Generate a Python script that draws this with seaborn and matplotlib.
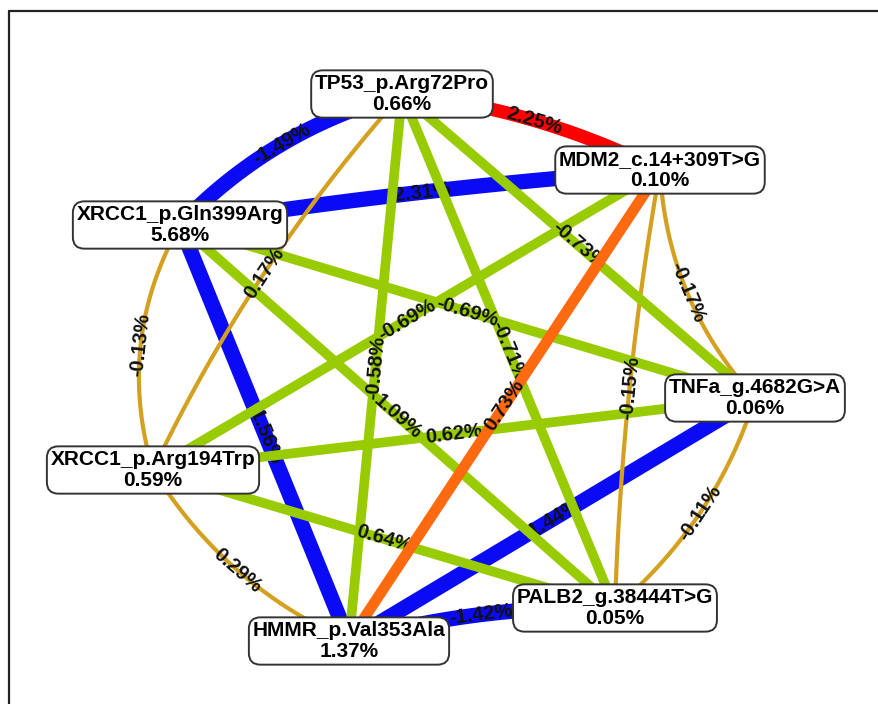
import numpy as np
import pandas as pd
import matplotlib
matplotlib.use("Agg")
import matplotlib.pyplot as plt
from matplotlib.lines import Line2D
import seaborn as sns

# ---- data -----------------------------------------------------------------
genes = ["TP53_p.Arg72Pro", "MDM2_c.14+309T>G", "TNFa_g.4682G>A",
         "PALB2_g.38444T>G", "HMMR_p.Val353Ala", "XRCC1_p.Arg194Trp",
         "XRCC1_p.Gln399Arg"]
main_effect = [0.66, 0.10, 0.06, 0.05, 1.37, 0.59, 5.68]

# pairwise interaction (% of entropy), listed in drawing order
edge_from = ["TP53_p.Arg72Pro", "XRCC1_p.Gln399Arg", "TNFa_g.4682G>A", "HMMR_p.Val353Ala",
             "XRCC1_p.Gln399Arg", "TP53_p.Arg72Pro", "MDM2_c.14+309T>G", "MDM2_c.14+309T>G",
             "TNFa_g.4682G>A", "XRCC1_p.Arg194Trp",
             "MDM2_c.14+309T>G", "XRCC1_p.Gln399Arg", "TP53_p.Arg72Pro", "TP53_p.Arg72Pro",
             "TP53_p.Arg72Pro", "XRCC1_p.Gln399Arg", "XRCC1_p.Arg194Trp", "XRCC1_p.Arg194Trp",
             "XRCC1_p.Gln399Arg", "MDM2_c.14+309T>G", "TP53_p.Arg72Pro"]
edge_to = ["XRCC1_p.Gln399Arg", "HMMR_p.Val353Ala", "HMMR_p.Val353Ala", "PALB2_g.38444T>G",
           "XRCC1_p.Arg194Trp", "XRCC1_p.Arg194Trp", "PALB2_g.38444T>G", "TNFa_g.4682G>A",
           "PALB2_g.38444T>G", "HMMR_p.Val353Ala",
           "XRCC1_p.Arg194Trp", "TNFa_g.4682G>A", "HMMR_p.Val353Ala", "PALB2_g.38444T>G",
           "TNFa_g.4682G>A", "PALB2_g.38444T>G", "TNFa_g.4682G>A", "PALB2_g.38444T>G",
           "MDM2_c.14+309T>G", "HMMR_p.Val353Ala", "MDM2_c.14+309T>G"]
edge_value = [-1.49, -1.56, -1.44, -1.42,
              -0.13, 0.17, -0.15, -0.17, -0.11, 0.29,
              -0.69, -0.69, -0.58, -0.71, -0.73, 1.09, 0.62, 0.64,
              -2.31, 0.73, 2.25]

# ---- styling --------------------------------------------------------------
edge_kind = ["blue"] * 4 + ["gold"] * 6 + ["green"] * 8 + ["blue", "orange", "red"]
# outward bow of each edge at its midpoint (px, negative bows inward)
edge_bend = [18, 0, 0, -10,
             26, 16, -8, -22, 18, 20,
             0, 0, 0, 0, 0, 0, 0, 0,
             5, 0, 12]
kind_color = {"blue": "#0a0af5", "gold": "#d4a020", "green": "#99cc00",
              "orange": "#ff6a10", "red": "#ff0000"}
kind_width = {"blue": 11.0, "gold": 3.0, "green": 7.0, "orange": 7.8, "red": 9.6}
kind_order = {"blue": 1, "gold": 2, "green": 3, "orange": 4, "red": 5}
# labels of thin/medium edges sit above all the green edges
label_layer = {"gold": 3.9, "green": 3.9}
# labels that get covered by later edges keep their own edge's layer
low_labels = {("XRCC1_p.Arg194Trp", "TNFa_g.4682G>A"),
              ("TP53_p.Arg72Pro", "TNFa_g.4682G>A")}

# node placement (circular-style layout, pixel space)
layout = {
    "TP53_p.Arg72Pro": (402, 94),
    "MDM2_c.14+309T>G": (660, 170),
    "TNFa_g.4682G>A": (755, 398),
    "PALB2_g.38444T>G": (615, 608),
    "HMMR_p.Val353Ala": (349, 641),
    "XRCC1_p.Arg194Trp": (153, 470),
    "XRCC1_p.Gln399Arg": (180, 225),
}
hub = np.array([445.0, 390.0])

W, H = 879, 704
sns.set_theme(style="white")
plt.rcParams["font.family"] = ["Liberation Sans", "DejaVu Sans"]

fig = plt.figure(figsize=(W / 100, H / 100), dpi=100)
ax = fig.add_axes([0, 0, 1, 1])
ax.set_xlim(0, W)
ax.set_ylim(H, 0)
ax.axis("off")

t = np.linspace(0, 1, 80)
for i, (a, b, v) in enumerate(zip(edge_from, edge_to, edge_value)):
    p0 = np.array(layout[a], float)
    p2 = np.array(layout[b], float)
    mid = (p0 + p2) / 2
    d = p2 - p0
    n = np.array([-d[1], d[0]]) / np.hypot(*d)
    if np.dot(n, mid - hub) < 0:
        n = -n
    bend = edge_bend[i]
    ctrl = mid + 2 * bend * n
    pts = ((1 - t)[:, None] ** 2 * p0 + 2 * ((1 - t) * t)[:, None] * ctrl
           + (t ** 2)[:, None] * p2)
    seg = pd.DataFrame({"x": pts[:, 0], "y": pts[:, 1]})
    kind = edge_kind[i]
    z = kind_order[kind] + i * 0.01
    sns.lineplot(data=seg, x="x", y="y", ax=ax, sort=False, estimator=None,
                 color=kind_color[kind], lw=kind_width[kind],
                 solid_capstyle="butt", zorder=z)
    lab = mid + bend * n
    ang = np.degrees(np.arctan2(-d[1], d[0]))
    if ang > 90:
        ang -= 180
    elif ang <= -90:
        ang += 180
    if (a, b) in low_labels:
        lz = z + 0.005
    else:
        lz = label_layer.get(kind, z + 0.005)
    ax.text(lab[0], lab[1], f"{v:.2f}%", rotation=ang, rotation_mode="anchor",
            ha="center", va="center", fontsize=14.5, fontweight="bold",
            color="#111111", zorder=lz)

ax.set_xlabel("")
ax.set_ylabel("")

for g, m in zip(genes, main_effect):
    x, y = layout[g]
    ax.text(x, y, f"{g}\n{m:.2f}%", ha="center", va="center", color="black",
            fontsize=15, fontweight="bold", linespacing=1.12, zorder=20,
            bbox=dict(boxstyle="round,pad=0.18,rounding_size=0.55",
                      fc="white", ec="#333333", lw=1.4))

# frame lines along the top and left
fig.add_artist(Line2D([8.5 / W, 1], [1 - 11 / H, 1 - 11 / H],
                      transform=fig.transFigure, color="#222222", lw=1.6))
fig.add_artist(Line2D([8.5 / W, 8.5 / W], [0, 1 - 11 / H],
                      transform=fig.transFigure, color="#222222", lw=1.6))

fig.savefig("out.png", dpi=100, facecolor="white")
